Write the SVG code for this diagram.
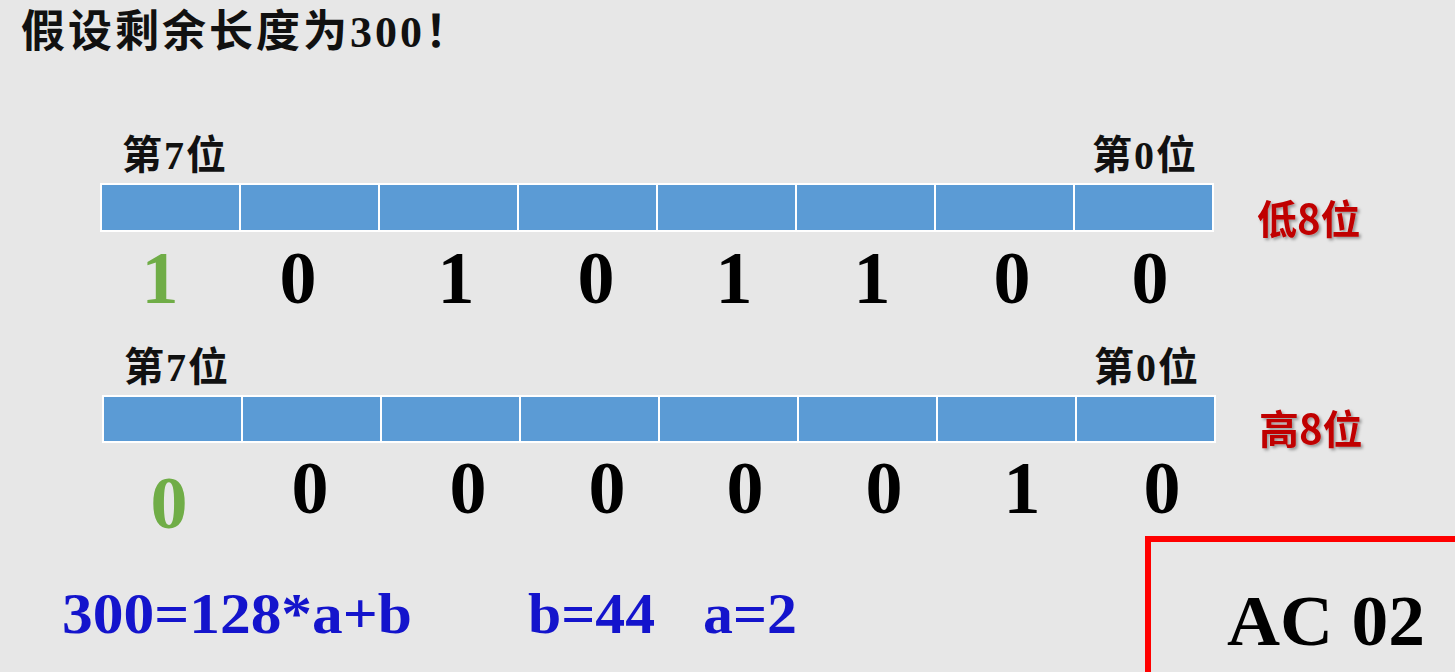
<svg xmlns="http://www.w3.org/2000/svg" width="1455" height="672" viewBox="0 0 1455 672">
<defs>
<style>
.bg{fill:#e7e7e7}
.cell{fill:#5b9bd5;stroke:#ffffff;stroke-width:2}
.lbl{font-family:"Liberation Serif","Noto Sans CJK SC",serif;font-weight:bold;font-size:40px;letter-spacing:2px;fill:#111}
.dig{font-family:"Liberation Serif",serif;font-weight:bold;font-size:74px;fill:#000;text-anchor:middle}
.grn{fill:#70ad47}
.side{font-family:"Noto Sans CJK SC",sans-serif;font-weight:bold;font-size:40px;fill:#c00000;filter:url(#sh)}
.eq{font-family:"Liberation Serif",serif;font-weight:bold;font-size:56px;fill:#1414cc}
</style>
<filter id="sh" x="-10%" y="-10%" width="130%" height="130%">
<feDropShadow dx="2" dy="2" stdDeviation="1.5" flood-color="#000" flood-opacity="0.35"/>
</filter>
</defs>
<rect class="bg" x="0" y="0" width="1455" height="672"/>
<text x="21" y="47" font-family="Liberation Serif,'Noto Sans CJK SC',sans-serif" font-weight="bold" font-size="44" letter-spacing="3" fill="#111">假设剩余长度为300！</text>

<g id="low-byte">
<rect class="cell" x="101" y="184" width="139" height="47"/>
<rect class="cell" x="240" y="184" width="139" height="47"/>
<rect class="cell" x="379" y="184" width="139" height="47"/>
<rect class="cell" x="518" y="184" width="139" height="47"/>
<rect class="cell" x="657" y="184" width="139" height="47"/>
<rect class="cell" x="796" y="184" width="139" height="47"/>
<rect class="cell" x="935" y="184" width="139" height="47"/>
<rect class="cell" x="1074" y="184" width="139" height="47"/>
<text class="lbl" x="122" y="169">第7位</text>
<text class="lbl" x="1092" y="169">第0位</text>
<text class="side" x="1257" y="234">低8位</text>
<text class="dig grn" x="160" y="303">1</text>
<text class="dig" x="298" y="303">0</text>
<text class="dig" x="456" y="303">1</text>
<text class="dig" x="596" y="303">0</text>
<text class="dig" x="734" y="303">1</text>
<text class="dig" x="872" y="303">1</text>
<text class="dig" x="1012" y="303">0</text>
<text class="dig" x="1150" y="303">0</text>
</g>

<g id="high-byte">
<rect class="cell" x="103" y="396" width="139" height="46"/>
<rect class="cell" x="242" y="396" width="139" height="46"/>
<rect class="cell" x="381" y="396" width="139" height="46"/>
<rect class="cell" x="520" y="396" width="139" height="46"/>
<rect class="cell" x="659" y="396" width="139" height="46"/>
<rect class="cell" x="798" y="396" width="139" height="46"/>
<rect class="cell" x="937" y="396" width="139" height="46"/>
<rect class="cell" x="1076" y="396" width="139" height="46"/>
<text class="lbl" x="124" y="381">第7位</text>
<text class="lbl" x="1094" y="381">第0位</text>
<text class="side" x="1259" y="444">高8位</text>
<text class="dig grn" x="169" y="528">0</text>
<text class="dig" x="310" y="513">0</text>
<text class="dig" x="468" y="513">0</text>
<text class="dig" x="607" y="513">0</text>
<text class="dig" x="745" y="513">0</text>
<text class="dig" x="884" y="513">0</text>
<text class="dig" x="1022" y="513">1</text>
<text class="dig" x="1162" y="513">0</text>
</g>

<g id="formula">
<text class="eq" x="62" y="633" textLength="350" lengthAdjust="spacingAndGlyphs">300=128*a+b</text>
<text class="eq" x="528" y="633" textLength="127" lengthAdjust="spacingAndGlyphs">b=44</text>
<text class="eq" x="703" y="633" textLength="94" lengthAdjust="spacingAndGlyphs">a=2</text>
</g>

<g id="ac-box">
<rect x="1148" y="539" width="320" height="150" fill="none" stroke="#ff0000" stroke-width="6"/>
<text x="1227" y="645" font-family="Liberation Serif,serif" font-weight="bold" font-size="72" fill="#000" textLength="198" lengthAdjust="spacingAndGlyphs">AC 02</text>
</g>
</svg>
